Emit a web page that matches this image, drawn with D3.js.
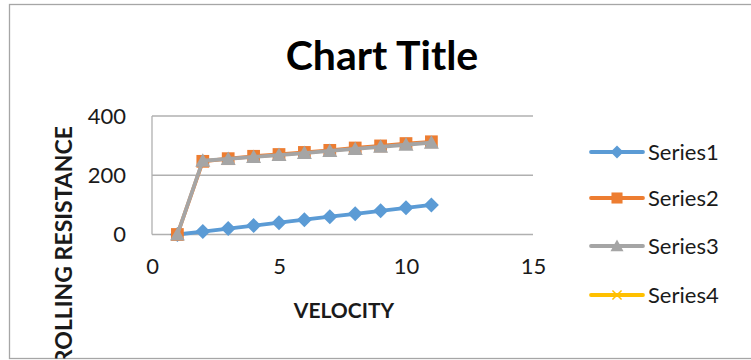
<!DOCTYPE html>
<html>
<head>
<meta charset="utf-8">
<script src="https://cdn.jsdelivr.net/npm/d3@7"></script>
<style>
  html, body { margin: 0; padding: 0; background: #fff; }
  svg { display: block; font-family: Lato, "Open Sans", sans-serif; }
</style>
</head>
<body>
<svg id="chart" width="751" height="360"></svg>
<script>
// Velocity (x) values
const velocity = [1, 2, 3, 4, 5, 6, 7, 8, 9, 10, 11];
// Rolling resistance series
const series1 = [0, 10, 20, 30, 40, 50, 60, 70, 80, 90, 100];
const series2 = [0, 247, 256, 264, 270, 277, 284, 292, 299, 307, 313];
const series3 = [0, 249, 255, 262, 268, 275, 282, 289, 296, 303, 310];
const series4 = [];
const seriesNames = ["Series1", "Series2", "Series3", "Series4"];
const seriesColors = ["#5b9bd5", "#ed7d31", "#a5a5a5", "#ffc000"];
const xTicks = [0, 5, 10, 15];
const yTicks = [0, 200, 400];

const svg = d3.select("#chart");

// chart area frame and clip
svg.append("clipPath").attr("id", "area-clip")
  .append("rect").attr("x", 9.5).attr("y", 4.5).attr("width", 760).attr("height", 354);
svg.append("rect")
  .attr("x", 9.5).attr("y", 4.5).attr("width", 760).attr("height", 354)
  .attr("fill", "#fff").attr("stroke", "#a6a6a6").attr("stroke-width", 1.3);

const g = svg.append("g").attr("clip-path", "url(#area-clip)");

const x = d3.scaleLinear().domain([0, 15]).range([152, 533]);
const y = d3.scaleLinear().domain([0, 400]).range([234.5, 116]);

// horizontal gridlines
g.selectAll("line.grid").data(yTicks).enter().append("line")
  .attr("x1", x(0)).attr("x2", x(15))
  .attr("y1", d => y(d)).attr("y2", d => y(d))
  .attr("stroke", "#b0b0b0").attr("stroke-width", 1.3);

// vertical axis line
g.append("line")
  .attr("x1", x(0)).attr("x2", x(0)).attr("y1", y(400)).attr("y2", y(0))
  .attr("stroke", "#b0b0b0").attr("stroke-width", 1.3);

// tick labels via d3 axes
const yAxis = g.append("g").attr("transform", `translate(${x(0)},0)`)
  .call(d3.axisLeft(y).tickValues(yTicks).tickSize(0).tickPadding(26));
const xAxis = g.append("g").attr("transform", `translate(0,${y(0)})`)
  .call(d3.axisBottom(x).tickValues(xTicks).tickSize(0).tickPadding(24));
[yAxis, xAxis].forEach(a => {
  a.select(".domain").remove();
  a.selectAll("text").attr("font-family", "Lato, 'Open Sans', sans-serif")
    .attr("font-size", 22).attr("fill", "#1a1a1a");
});

// titles
g.append("text").attr("x", 382).attr("y", 70).attr("text-anchor", "middle")
  .attr("font-size", 41).attr("font-weight", "bold").attr("fill", "#000")
  .text("Chart Title");
g.append("text").attr("x", 344).attr("y", 318).attr("text-anchor", "middle")
  .attr("font-size", 21).attr("font-weight", "bold").attr("fill", "#1a1a1a")
  .text("VELOCITY");
// axis title runs past the lower frame edge and is clipped there
g.append("text").attr("transform", "translate(72,126) rotate(-90)")
  .attr("text-anchor", "end")
  .attr("font-size", 23).attr("font-weight", "bold").attr("fill", "#1a1a1a")
  .text("ROLLING RESISTANCE");

// markers
function marker(sel, i, size) {
  const c = seriesColors[i];
  if (i === 0) {
    sel.append("path").attr("d", `M0,${-size}L${size},0L0,${size}L${-size},0Z`).attr("fill", c);
  } else if (i === 1) {
    sel.append("rect").attr("x", -size * 0.85).attr("y", -size * 0.85)
      .attr("width", size * 1.7).attr("height", size * 1.7).attr("fill", c);
  } else if (i === 2) {
    sel.append("path").attr("d", `M0,${-size}L${size},${size * 0.8}L${-size},${size * 0.8}Z`).attr("fill", c);
  } else {
    sel.append("path").attr("d", `M${-size * 0.7},${-size * 0.7}L${size * 0.7},${size * 0.7}M${size * 0.7},${-size * 0.7}L${-size * 0.7},${size * 0.7}`)
      .attr("stroke", c).attr("stroke-width", 1.5).attr("fill", "none");
  }
}

const allSeries = [series1, series2, series3, series4];
allSeries.forEach((vals, i) => {
  const pts = vals.map((v, k) => [velocity[k], v]);
  const line = d3.line().x(d => x(d[0])).y(d => y(d[1]));
  if (pts.length) {
    g.append("path").datum(pts).attr("d", line)
      .attr("fill", "none").attr("stroke", seriesColors[i])
      .attr("stroke-width", 3.8).attr("stroke-linejoin", "round").attr("stroke-linecap", "round");
  }
  g.selectAll(null).data(pts).enter().append("g")
    .attr("transform", d => `translate(${x(d[0])},${y(d[1])})`)
    .each(function () { marker(d3.select(this), i, 7.5); });
});

// legend
const legendRows = [152, 198, 246, 295];
seriesNames.forEach((name, i) => {
  const lg = g.append("g").attr("transform", `translate(0,${legendRows[i]})`);
  lg.append("line").attr("x1", 591).attr("x2", 643).attr("y1", 0).attr("y2", 0)
    .attr("stroke", seriesColors[i]).attr("stroke-width", 3.8).attr("stroke-linecap", "round");
  lg.append("g").attr("transform", "translate(617,0)").call(s => marker(s, i, 6.5));
  lg.append("text").attr("x", 648).attr("y", 0).attr("dy", "0.35em")
    .attr("font-size", 22).attr("fill", "#1a1a1a").text(name);
});
</script>
</body>
</html>
